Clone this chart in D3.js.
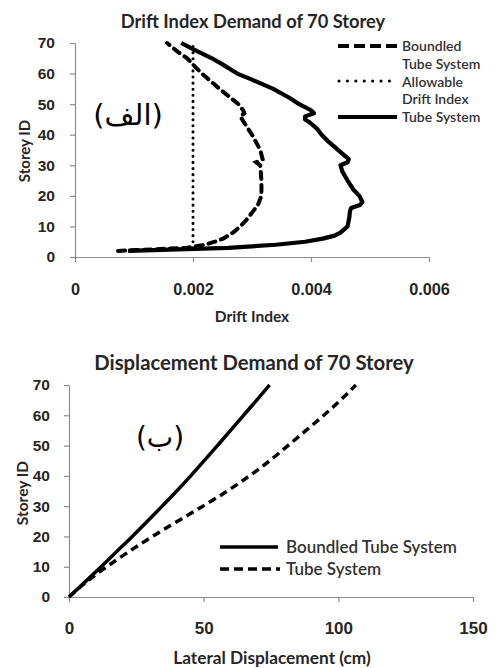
<!DOCTYPE html>
<html>
<head>
<meta charset="utf-8">
<script src="https://cdn.jsdelivr.net/npm/d3@7/dist/d3.min.js"></script>
<style>
  html, body { margin: 0; padding: 0; background: #fff; }
  svg { display: block; font-family: Lato, "Open Sans", sans-serif; }
</style>
</head>
<body>
<svg id="chart" width="496" height="668"></svg>
<script>
// ---------- Data: Drift Index Demand of 70 Storey ----------
const tubeDriftStoreys = [2,3,4,5,6,7,8,10,13,15,16,17,18,20,22,25,28,30,31,32,34,36,38,40,42,44,45,46,47,48,50,52,55,58,60,63,65,68,70];
const tubeDrift = [0.0009,0.0026,0.0034,0.0039,0.0042,0.0044,0.0045,0.00462,0.00465,0.00466,0.00468,0.00483,0.00487,0.00482,0.00472,0.00462,0.00453,0.0045,0.00462,0.00464,0.00452,0.0044,0.00428,0.00418,0.0041,0.00398,0.0039,0.0039,0.00405,0.004,0.0038,0.00364,0.00336,0.003,0.00275,0.0025,0.00232,0.002,0.0018];

const boundledDriftStoreys = [2,3,4,5,6,8,10,12,15,17,20,25,30,31,32,35,40,43,46,47,48,50,55,60,63,65,67,70];
const boundledDrift = [0.00073,0.0019,0.0022,0.00237,0.00251,0.00268,0.0028,0.0029,0.00302,0.0031,0.00316,0.00316,0.00314,0.00307,0.00318,0.00314,0.003,0.0029,0.0028,0.00287,0.00285,0.00277,0.00245,0.00215,0.002,0.0019,0.00175,0.00156];

const allowableStoreys = [3,70];
const allowableDrift = [0.002,0.002];

const driftTicks = [0,0.002,0.004,0.006];
const storeyTicks = [0,10,20,30,40,50,60,70];

// ---------- Data: Displacement Demand of 70 Storey ----------
const dispStoreys = [0,5,10,15,20,25,30,35,40,45,50,55,60,65,70];
const boundledDisp = [0,6,11.9,17.7,23.5,29.1,34.6,40,45.2,50.2,55.1,60,64.8,69.7,74.5];
const tubeDisp = [0,6.5,14,22.3,31,40.3,49.7,58.8,67,74.5,81.3,88,94.6,100.8,106.5];
const dispTicks = [0,50,100,150];

const svg = d3.select("#chart");
const axisColor = "#8c8c8c";
const textColor = "#262626";

function styleAxis(g) {
  g.select(".domain").attr("stroke", axisColor).attr("stroke-width", 1.2);
  g.selectAll(".tick line").attr("stroke", axisColor).attr("stroke-width", 1.2);
  g.selectAll(".tick text").attr("fill", textColor).attr("font-weight", "bold");
}

function zipXY(xs, ys) { return xs.map((v, i) => ({x: v, y: ys[i]})); }

// ================= TOP CHART =================
{
  const x = d3.scaleLinear().domain([0, 0.006]).range([75, 429]);
  const y = d3.scaleLinear().domain([0, 70]).range([257, 43]);
  const g = svg.append("g");

  const yAx = g.append("g").attr("transform", `translate(${x(0)},0)`)
    .call(d3.axisLeft(y).tickValues(storeyTicks).tickSize(5).tickPadding(15).tickSizeOuter(0));
  styleAxis(yAx);
  yAx.selectAll(".tick text").attr("font-size", 15.5);

  const xAx = g.append("g").attr("transform", `translate(0,${y(0)})`)
    .call(d3.axisBottom(x).tickValues(driftTicks).tickFormat(d => d === 0 ? "0" : d3.format(".3f")(d))
      .tickSize(5).tickPadding(21).tickSizeOuter(0));
  styleAxis(xAx);
  xAx.selectAll(".tick text").attr("font-size", 16.3);

  const line = d3.line().x(d => x(d.x)).y(d => y(d.y));

  g.append("path").datum(zipXY(allowableDrift, allowableStoreys))
    .attr("d", line).attr("fill", "none").attr("stroke", "#000")
    .attr("stroke-width", 3).attr("stroke-linecap", "round").attr("stroke-dasharray", "0.1 6");
  g.append("path").datum(zipXY(boundledDrift, boundledDriftStoreys))
    .attr("d", line).attr("fill", "none").attr("stroke", "#000")
    .attr("stroke-width", 4).attr("stroke-linecap", "round").attr("stroke-dasharray", "7 6");
  g.append("path").datum(zipXY(tubeDrift, tubeDriftStoreys))
    .attr("d", line).attr("fill", "none").attr("stroke", "#000")
    .attr("stroke-width", 4.2).attr("stroke-linejoin", "round");

  g.append("text").attr("x", 253).attr("y", 28).attr("text-anchor", "middle")
    .attr("font-size", 18.3).attr("font-weight", "bold").attr("fill", textColor)
    .text("Drift Index Demand of 70 Storey");
  g.append("text").attr("x", 252).attr("y", 322).attr("text-anchor", "middle")
    .attr("font-size", 15.5).attr("font-weight", "bold").attr("fill", textColor)
    .text("Drift Index");
  g.append("text").attr("transform", "translate(30,151) rotate(-90)").attr("text-anchor", "middle")
    .attr("font-size", 15).attr("font-weight", "bold").attr("fill", textColor)
    .text("Storey ID");

  g.append("text").attr("x", 128).attr("y", 125).attr("text-anchor", "middle")
    .attr("font-family", "DejaVu Sans").attr("font-size", 29).attr("fill", "#000")
    .text("(الف)");

  // legend
  const lg = g.append("g");
  const lx0 = 338, lx1 = 397;
  lg.append("line").attr("x1", lx0).attr("x2", lx1).attr("y1", 46).attr("y2", 46)
    .attr("stroke", "#000").attr("stroke-width", 4).attr("stroke-dasharray", "11 5");
  lg.append("line").attr("x1", lx0 + 1).attr("x2", lx1).attr("y1", 81).attr("y2", 81)
    .attr("stroke", "#000").attr("stroke-width", 3).attr("stroke-linecap", "round").attr("stroke-dasharray", "0.1 8.3");
  lg.append("line").attr("x1", lx0).attr("x2", lx1).attr("y1", 117).attr("y2", 117)
    .attr("stroke", "#000").attr("stroke-width", 4);
  const legTexts = [["Boundled", 46], ["Tube System", 64], ["Allowable", 82], ["Drift Index", 99], ["Tube System", 117]];
  legTexts.forEach(([t, yy]) => {
    lg.append("text").attr("x", 402).attr("y", yy).attr("dy", "0.35em")
      .attr("font-size", 14).attr("font-weight", 600).attr("fill", "#333").text(t);
  });
}

// ================= BOTTOM CHART =================
{
  const x = d3.scaleLinear().domain([0, 150]).range([69, 473]);
  const y = d3.scaleLinear().domain([0, 70]).range([597, 385]);
  const g = svg.append("g");

  const yAx = g.append("g").attr("transform", `translate(${x(0)},0)`)
    .call(d3.axisLeft(y).tickValues(storeyTicks).tickSize(5).tickPadding(14).tickSizeOuter(0));
  styleAxis(yAx);
  yAx.selectAll(".tick text").attr("font-size", 15.5);

  const xAx = g.append("g").attr("transform", `translate(0,${y(0)})`)
    .call(d3.axisBottom(x).tickValues(dispTicks).tickSize(5).tickPadding(20).tickSizeOuter(0));
  styleAxis(xAx);
  xAx.selectAll(".tick text").attr("font-size", 17);

  const line = d3.line().x(d => x(d.x)).y(d => y(d.y)).curve(d3.curveMonotoneY);

  g.append("path").datum(zipXY(tubeDisp, dispStoreys))
    .attr("d", line).attr("fill", "none").attr("stroke", "#000")
    .attr("stroke-width", 3.5).attr("stroke-dasharray", "8 5");
  g.append("path").datum(zipXY(boundledDisp, dispStoreys))
    .attr("d", line).attr("fill", "none").attr("stroke", "#000")
    .attr("stroke-width", 3.5);

  g.append("text").attr("x", 254).attr("y", 370).attr("text-anchor", "middle")
    .attr("font-size", 20.3).attr("font-weight", "bold").attr("fill", textColor)
    .text("Displacement Demand of 70 Storey");
  g.append("text").attr("x", 272).attr("y", 664).attr("text-anchor", "middle")
    .attr("font-size", 17.3).attr("font-weight", "bold").attr("fill", textColor)
    .text("Lateral Displacement (cm)");
  g.append("text").attr("transform", "translate(28,493) rotate(-90)").attr("text-anchor", "middle")
    .attr("font-size", 15.5).attr("font-weight", "bold").attr("fill", textColor)
    .text("Storey ID");

  g.append("text").attr("x", 160).attr("y", 447).attr("text-anchor", "middle")
    .attr("font-family", "DejaVu Sans").attr("font-size", 28).attr("fill", "#000")
    .text("(ب)");

  const lg = g.append("g");
  lg.append("line").attr("x1", 220).attr("x2", 278).attr("y1", 547).attr("y2", 547)
    .attr("stroke", "#000").attr("stroke-width", 3.5);
  lg.append("line").attr("x1", 220).attr("x2", 280).attr("y1", 569).attr("y2", 569)
    .attr("stroke", "#000").attr("stroke-width", 3.5).attr("stroke-dasharray", "9 5");
  lg.append("text").attr("x", 286).attr("y", 547).attr("dy", "0.35em")
    .attr("font-size", 17).attr("font-weight", 600).attr("fill", "#333").text("Boundled Tube System");
  lg.append("text").attr("x", 286).attr("y", 569).attr("dy", "0.35em")
    .attr("font-size", 17).attr("font-weight", 600).attr("fill", "#333").text("Tube System");
}
</script>
</body>
</html>
